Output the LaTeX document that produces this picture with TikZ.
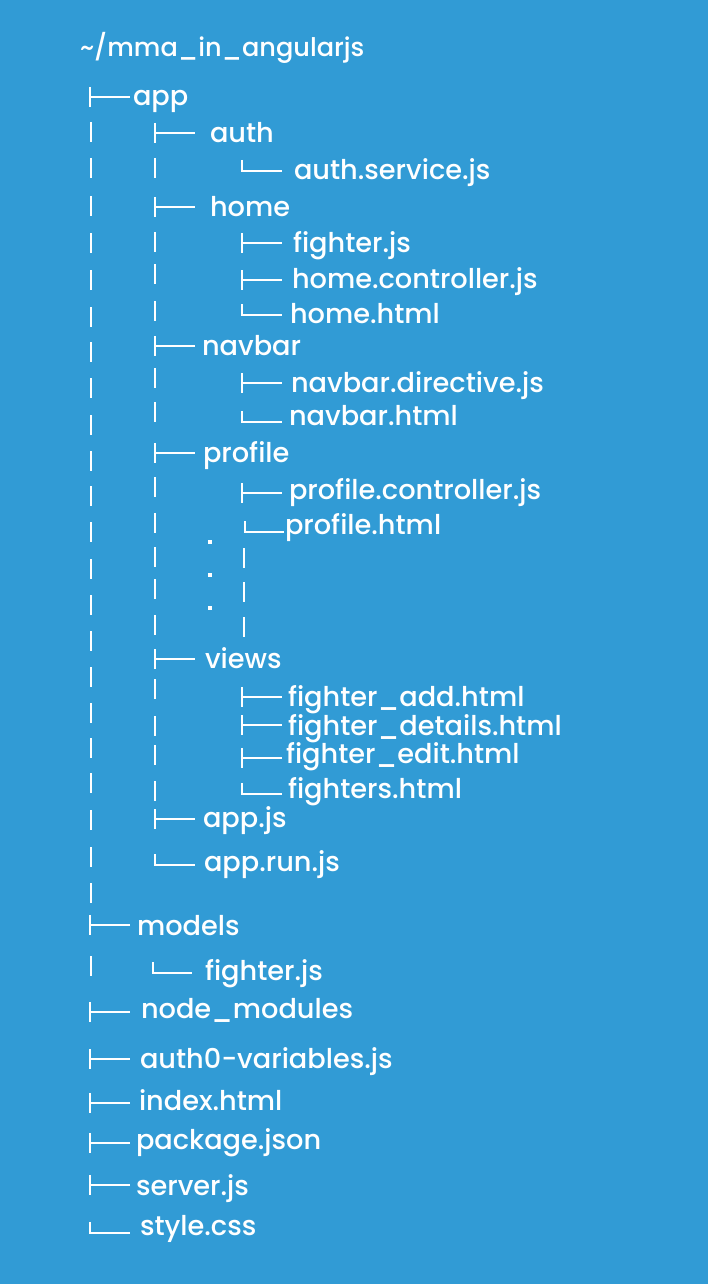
\documentclass[tikz,border=0pt]{standalone}
\usepackage{fontspec}
\newfontfamily\treefont{Poppins Medium}
\definecolor{panel}{RGB}{49,155,213}
\begin{document}
\begin{tikzpicture}[x=1pt,y=-1pt,
  tree/.style={draw=white,line width=2.9pt},
  lbl/.style={anchor=base west,inner sep=0pt,outer sep=0pt,text=white,
              font=\treefont\fontsize{27.2}{32}\selectfont},
  treetee/.pic={\draw[tree] (0,-10) -- (0,10) (0,0) -- (40,0);},
  treeell/.pic={\draw[tree] (0,-11) -- (0,0) -- (40,0);},
  treebar/.pic={\draw[tree] (0,-10) -- (0,10);},
  treedot/.pic={\fill[white] (-2,-2) rectangle (2,2);}]
\fill[panel] (0,0) rectangle (708,1284);
\useasboundingbox (0,0) rectangle (708,1284);

% root
\node[lbl,font=\treefont\fontsize{25.6}{30}\selectfont] (root) at (80,57) {\textasciitilde/mma\_in\_angularjs};

% first-level continuation bars
\foreach \y in {132,168,206,243,280,317,352,388,425,461,496,532,569,605,641,677,713,748,783,820,857,893,966}
  \pic at (91,\y) {treebar};

% second-level continuation bars
\foreach \y in {168,242,274,311,378,412,487,523,557,589,625,689,726,755,791}
  \pic at (155,\y) {treebar};

% third-level bars under the elided entries
\foreach \y in {558,592,627}
  \pic at (244,\y) {treebar};

% elision dots
\foreach \y in {542,575,608}
  \pic at (210,\y) {treedot};

% first level
\pic at (90,97) {treetee};
\node[lbl] (app) at (133,106) {app};

% app/auth
\pic at (155,133) {treetee};
\node[lbl] (auth) at (210,143) {auth};
\pic at (242,171) {treeell};
\node[lbl] (authsvc) at (294,179) {auth.service.js};

% app/home
\pic at (155,207) {treetee};
\node[lbl] (home) at (210,216) {home};
\pic at (242,243) {treetee};
\node[lbl] (fighterhome) at (293,252) {fighter.js};
\pic at (242,280) {treetee};
\node[lbl] (homectl) at (292,288) {home.controller.js};
\pic at (242,315) {treeell};
\node[lbl] (homehtml) at (290,323) {home.html};

% app/navbar
\pic at (155,346) {treetee};
\node[lbl] (navbar) at (202,355) {navbar};
\pic at (242,383) {treetee};
\node[lbl] (navdir) at (291,392) {navbar.directive.js};
\pic at (242,422) {treeell};
\node[lbl] (navhtml) at (289,425) {navbar.html};

% app/profile
\pic at (155,453) {treetee};
\node[lbl] (profile) at (203,462) {profile};
\pic at (242,493) {treetee};
\node[lbl] (profctl) at (289,499) {profile.controller.js};
\draw[tree] (245,521) -- (245,532) -- (284,532);
\node[lbl] (profhtml) at (285,534) {profile.html};

% app/views
\pic at (155,659) {treetee};
\node[lbl] (views) at (205,668) {views};
\pic at (242,697) {treetee};
\node[lbl] (fadd) at (288,706) {fighter\_add.html};
\pic at (242,725) {treetee};
\node[lbl] (fdet) at (288,735) {fighter\_details.html};
\pic at (242,758) {treetee};
\node[lbl] (fedit) at (286,763) {fighter\_edit.html};
\pic at (242,794) {treeell};
\node[lbl] (fall) at (288,798) {fighters.html};

% app files
\pic at (155,819) {treetee};
\node[lbl] (appjs) at (203,827) {app.js};
\pic at (155,865) {treeell};
\node[lbl] (apprun) at (204,871) {app.run.js};

% models
\pic at (90,925) {treetee};
\node[lbl] (models) at (137,935) {models};
\draw[tree] (153,962) -- (153,973) -- (192,973);
\node[lbl] (fightermodel) at (205,980) {fighter.js};

% remaining top-level entries
\pic at (90,1012) {treetee};
\node[lbl] (nodemods) at (141,1018) {node\_modules};
\pic at (90,1059) {treetee};
\node[lbl] (authvars) at (140,1068) {auth0-variables.js};
\pic at (90,1103) {treetee};
\node[lbl] (index) at (139,1110) {index.html};
\pic at (90,1143) {treetee};
\node[lbl] (pkg) at (136,1149) {package.json};
\pic at (90,1185) {treetee};
\node[lbl] (server) at (136,1195) {server.js};
\pic at (90,1233) {treeell};
\node[lbl] (style) at (140,1235) {style.css};
\end{tikzpicture}
\end{document}
